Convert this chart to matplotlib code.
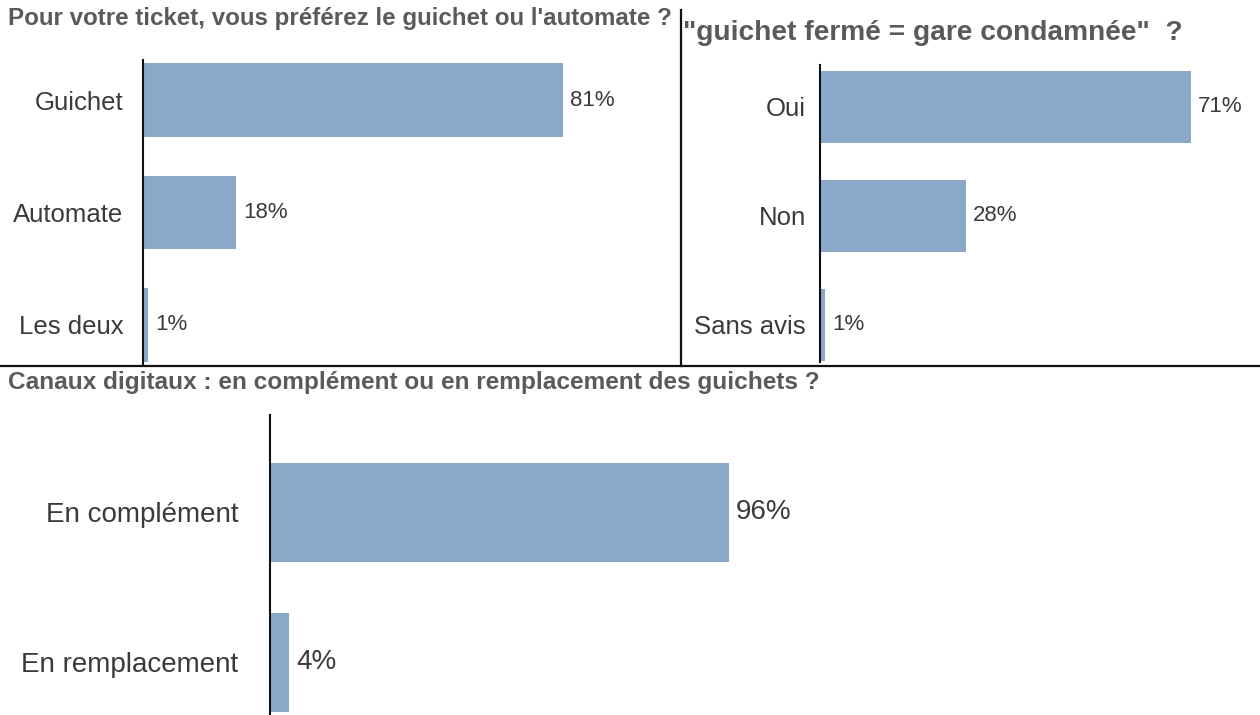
import matplotlib
matplotlib.use("Agg")
import matplotlib.pyplot as plt
from matplotlib.lines import Line2D

# donnees
cats_ticket = ["Guichet", "Automate", "Les deux"]
vals_ticket = [81, 18, 1]

cats_gare = ["Oui", "Non", "Sans avis"]
vals_gare = [71, 28, 1]

cats_digit = ["En complément", "En remplacement"]
vals_digit = [96, 4]

titre_ticket = "Pour votre ticket, vous préférez le guichet ou l'automate ?"
titre_gare = "\"guichet fermé = gare condamnée\"  ?"
titre_digit = "Canaux digitaux : en complément ou en remplacement des guichets ?"

W, H = 1260, 715
BAR = "#8aa8c9"
TXT = "#3a3a3a"
GRIS = "#5a5a5a"

plt.rcParams['font.family'] = ['Liberation Sans', 'DejaVu Sans']

fig = plt.figure(figsize=(W / 100, H / 100), dpi=100)
renderer = fig.canvas.get_renderer()


def axes_px(x, y_top, w, y_bot):
    # rectangle en pixels (origine en haut a gauche)
    return fig.add_axes([x / W, 1 - y_bot / H, w / W, (y_bot - y_top) / H])


def titre(txt, x, y, largeur):
    t = fig.text(x / W, 1 - y / H, txt, ha='left', va='center',
                 fontsize=14, fontweight='bold', color=GRIS,
                 family=['Liberation Sans Narrow', 'Liberation Sans'])
    bb = t.get_window_extent(renderer)
    t.set_fontsize(14 * largeur / bb.width)
    return t


def barres(ax, cats, vals, ylim, haut, fs_cat, fs_val, pad_cat):
    pos = list(range(len(cats)))
    b = ax.barh(pos, vals, height=haut, color=BAR)
    ax.set_xlim(0, 100)
    ax.set_ylim(*ylim)
    ax.set_yticks(pos)
    ax.set_yticklabels(cats, fontsize=fs_cat, color=TXT)
    ax.tick_params(axis='y', length=0, pad=pad_cat)
    ax.set_xticks([])
    for s in ['top', 'right', 'bottom']:
        ax.spines[s].set_visible(False)
    ax.spines['left'].set_linewidth(1.5)
    ax.spines['left'].set_color('#111111')
    ax.bar_label(b, labels=[f"{v}%" for v in vals], padding=5,
                 fontsize=fs_val, color=TXT)
    ax.patch.set_alpha(0)


ax1 = axes_px(143, 60, 518, 365)
barres(ax1, cats_ticket, vals_ticket, (2.356, -0.356), 0.65, 18.5, 16, 14)

ax2 = axes_px(820, 65, 522, 362)
barres(ax2, cats_gare, vals_gare, (2.34, -0.385), 0.66, 18.5, 16, 10)

ax3 = axes_px(270, 415, 478, 715)
barres(ax3, cats_digit, vals_digit, (1.353, -0.647), 0.66, 20, 20, 23)

titre(titre_ticket, 8, 18, 664)
titre(titre_gare, 683, 33, 500)
titre(titre_digit, 8, 382, 814)

# separateurs
fig.add_artist(Line2D([681 / W, 681 / W], [1 - 10 / H, 1 - 366 / H],
                      transform=fig.transFigure, color='#111111', lw=1.6))
fig.add_artist(Line2D([0, 1], [1 - 366 / H, 1 - 366 / H],
                      transform=fig.transFigure, color='#111111', lw=1.6))

fig.savefig("out.png", dpi=100, facecolor='white')
